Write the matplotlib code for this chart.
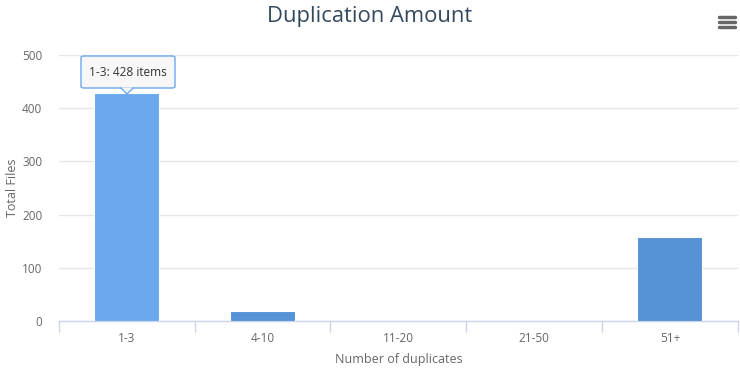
import matplotlib
matplotlib.use("Agg")
import matplotlib.pyplot as plt
from matplotlib.patches import FancyBboxPatch, Polygon

categories = ["1-3", "4-10", "11-20", "21-50", "51+"]
values = [428, 19, 0, 0, 158]
yticks = [0, 100, 200, 300, 400, 500]

plt.rcParams['font.family'] = ['Open Sans', 'DejaVu Sans']

fig = plt.figure(figsize=(7.4, 3.7), dpi=100)
ax = fig.add_axes([0.0797, 0.1324, 0.9173, 0.719])

colors = ["#6ba8ee"] + ["#5592d6"] * (len(values) - 1)
x = list(range(len(categories)))
ax.bar(x, values, width=0.48, color=colors, edgecolor="white", linewidth=0.8, zorder=3)

ax.set_xlim(-0.5, len(categories) - 0.5)
ax.set_ylim(0, 500)
ax.set_yticks(yticks)
ax.set_yticklabels([str(v) for v in yticks], fontsize=8.5, color="#666666")
ax.yaxis.grid(True, color="#e6e6e6", linewidth=1, zorder=0)
ax.tick_params(axis="y", length=0, pad=12)

ax.set_xticks(x)
ax.set_xticklabels(categories, fontsize=8.5, color="#666666")
ax.tick_params(axis="x", length=0, pad=8)
ax.set_xticks([i - 0.5 for i in range(len(categories) + 1)], minor=True)
ax.tick_params(axis="x", which="minor", length=8, color="#ccd6eb", width=1)

for s in ["top", "right", "left"]:
    ax.spines[s].set_visible(False)
ax.spines["bottom"].set_color("#ccd6eb")
ax.spines["bottom"].set_linewidth(1)

ax.set_xlabel("Number of duplicates", fontsize=9, color="#666666", labelpad=6)
ax.set_ylabel("Total Files", fontsize=9, color="#666666")
ax.yaxis.set_label_coords(-40 / 679, 0.5)

fig.text(0.5, 0.955, "Duplication Amount", ha="center", va="center",
         fontsize=15.8, color="#34495e")

# hamburger menu icon
for dy in (0, 5, 10):
    fig.add_artist(plt.Line2D([719/740, 735/740], [1 - (17 + dy)/370, 1 - (17 + dy)/370],
                              color="#666666", linewidth=2.5, solid_capstyle="round"))

# tooltip
bx0, by0, bx1, by1 = 81/740, 1 - 88/370, 175/740, 1 - 56/370
box = FancyBboxPatch((bx0, by0), bx1 - bx0, by1 - by0,
                     boxstyle="round,pad=0,rounding_size=0.004",
                     transform=fig.transFigure, facecolor="#f7f7f7",
                     edgecolor="#6ba8ee", linewidth=1, zorder=10)
fig.add_artist(box)
tri = Polygon([(121/740, by0 + 0.0015), (133/740, by0 + 0.0015), (127/740, 1 - 94/370)],
              closed=True, transform=fig.transFigure, facecolor="#f7f7f7",
              edgecolor="none", zorder=11)
fig.add_artist(tri)
fig.add_artist(plt.Line2D([121/740, 127/740, 133/740], [by0, 1 - 94/370, by0],
                          color="#6ba8ee", linewidth=1, zorder=12))
fig.text((bx0 + bx1) / 2, (by0 + by1) / 2, f"{categories[0]}: {values[0]} items",
         ha="center", va="center", fontsize=8.6, color="#333333", zorder=13)

fig.savefig("out.png", dpi=100)
